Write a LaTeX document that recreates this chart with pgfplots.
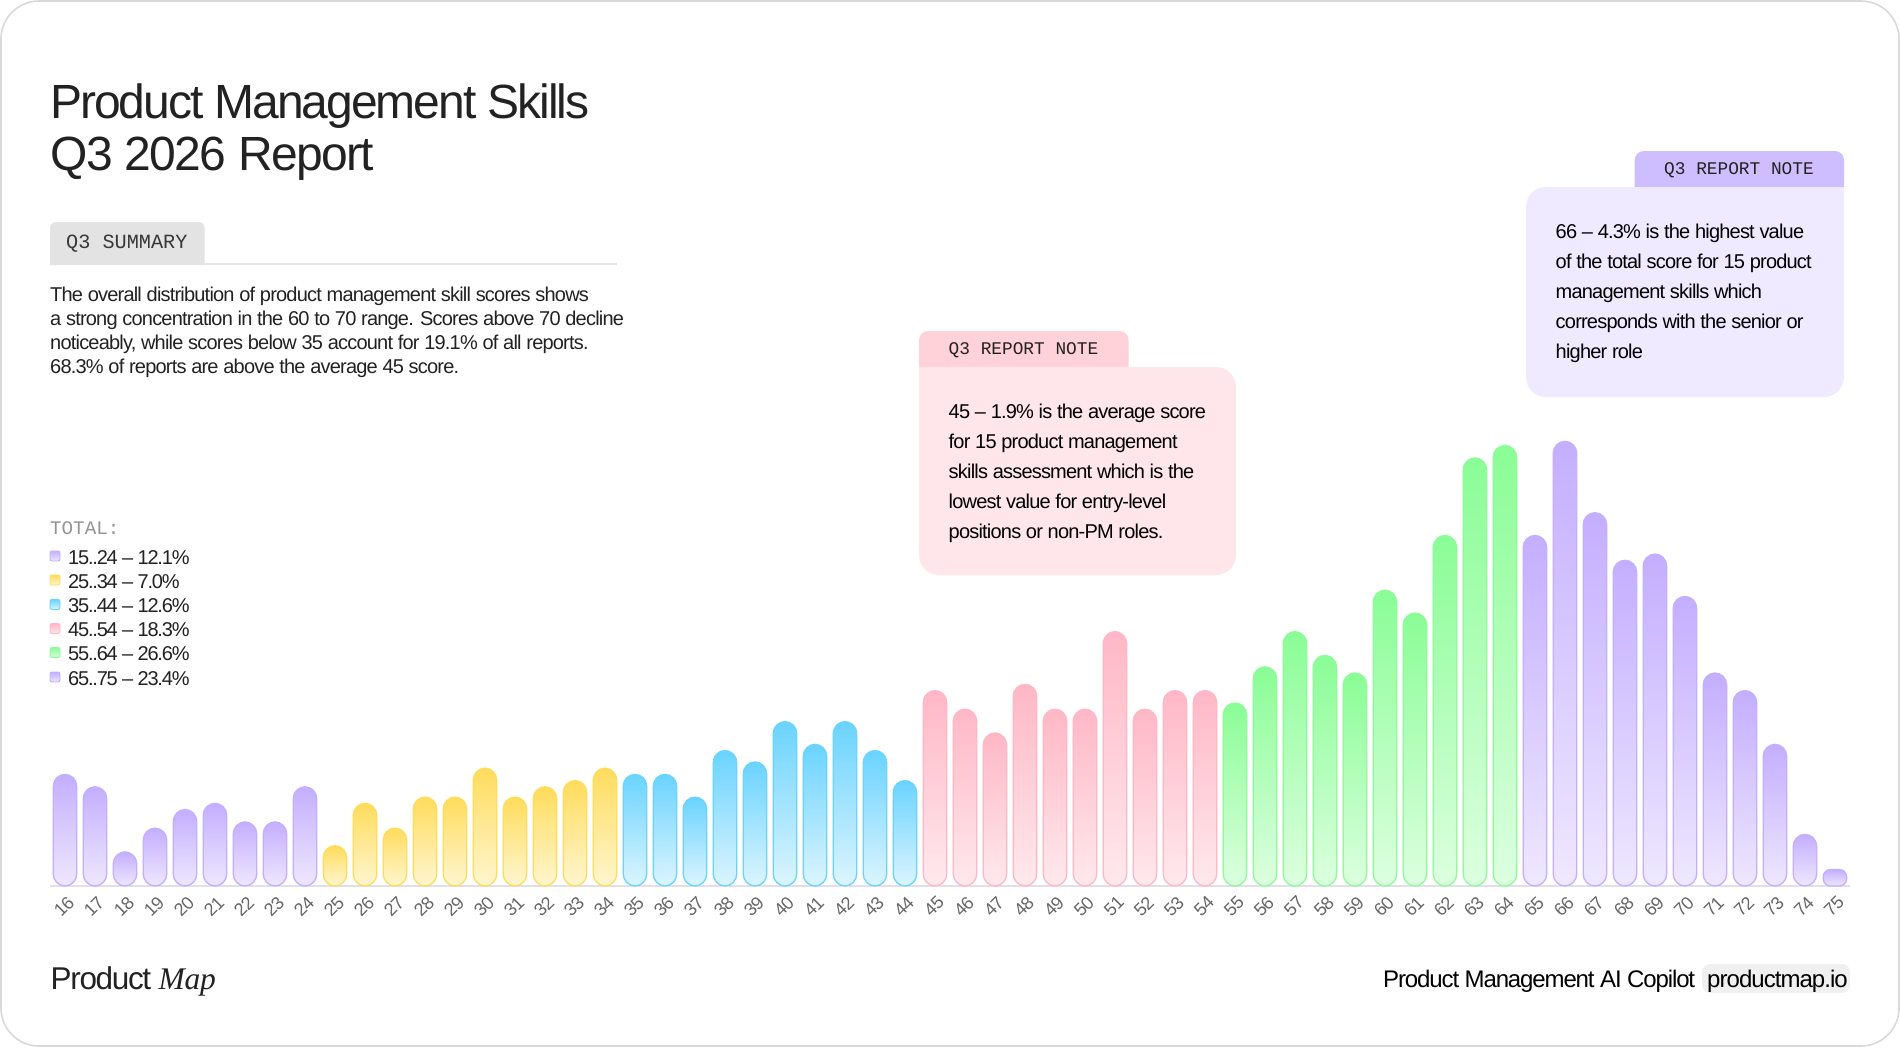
\documentclass[border=0pt]{standalone}
\usepackage{fontspec}
\usepackage{pgfplots}
\pgfplotsset{compat=1.18}
\setmainfont{Liberation Sans}
\newfontfamily\tight{Liberation Sans}[LetterSpace=-4.25]
\newfontfamily\tighter{Liberation Sans}[LetterSpace=-3.3]
\newfontfamily\body{Liberation Sans}[LetterSpace=-4]
\newfontfamily\leg{Liberation Sans}[LetterSpace=-6]
\newfontfamily\note{Liberation Sans}[LetterSpace=-4]
\newfontfamily\foot{Liberation Sans}[LetterSpace=-4.7]
\newfontfamily\lab{Liberation Sans}[LetterSpace=-2]
\newfontfamily\mapit{Liberation Serif}[LetterSpace=-1]
\newfontfamily\mono{Liberation Mono}
\definecolor{purT}{HTML}{C4AEFF}\definecolor{purB}{HTML}{EEE8FF}
\definecolor{yelT}{HTML}{FFDC5C}\definecolor{yelB}{HTML}{FFF6D0}
\definecolor{bluT}{HTML}{6AD3FF}\definecolor{bluB}{HTML}{DCF5FF}
\definecolor{pnkT}{HTML}{FFB7C6}\definecolor{pnkB}{HTML}{FFE9ED}
\definecolor{grnT}{HTML}{8AFD96}\definecolor{grnB}{HTML}{DDFFE0}
\definecolor{ink}{HTML}{222222}
\definecolor{pinkTab}{HTML}{FFD1D9}\definecolor{pinkBody}{HTML}{FEE6EA}
\definecolor{purTab}{HTML}{CEBEFF}\definecolor{purBody}{HTML}{EFEAFF}
\definecolor{axisLine}{HTML}{E2DFEA}
\newcommand\skillbar[4][12pt]{\addplot[ybar,bar width=23.5pt,bar shift=0pt,forget plot,line width=1.3pt,draw=#4T,top color=#4T,bottom color=#4B,rounded corners=#1] coordinates {(#2,#3)};}
\newcommand\tx[5]{\node[anchor=base west,inner sep=0pt,text=#4,font=\fontsize{#3}{#3}\selectfont] at (#1,#2) {#5};}
\newcommand\swatch[2]{\shade[top color=#2T,bottom color=#2B,draw=#2T,line width=0.9pt,rounded corners=2pt] (50,#1-5) rectangle (60,#1+5);}
\begin{document}
\begin{tikzpicture}
\begin{scope}[x=1pt,y=-1pt]
\useasboundingbox (0,0) rectangle (1900,1047);
\draw[draw=black!15,fill=white,line width=1.6pt,rounded corners=38pt] (1,1) rectangle (1899,1046);
% title
\tx{50}{118.5}{48}{ink}{\tight Product Management Skills}
\tx{50}{170.5}{48}{ink}{\tighter Q3 2026 Report}
% summary
\fill[black!11] (50,265) [rounded corners=6pt] -- (50,222) -- (204.5,222) [sharp corners] -- (204.5,265) -- cycle;
\fill[black!11] (50,262.5) rectangle (617,265);
\tx{66}{248}{20.2}{ink!90}{\mono Q3 SUMMARY}
\tx{50}{301.5}{20}{ink}{\body The overall distribution of product management skill scores shows}
\tx{50}{325.5}{20}{ink}{\body a strong concentration in the 60 to 70 range. Scores above 70 decline}
\tx{50}{349.5}{20}{ink}{\body noticeably, while scores below 35 account for 19.1\% of all reports.}
\tx{50}{373.5}{20}{ink}{\body 68.3\% of reports are above the average 45 score.}
% legend
\tx{50}{534.5}{19.2}{black!42}{\mono TOTAL:}
\swatch{556}{pur}\tx{68}{564}{20}{ink}{\leg 15..24 – 12.1\%}
\swatch{580}{yel}\tx{68}{588}{20}{ink}{\leg 25..34 – 7.0\%}
\swatch{604.5}{blu}\tx{68}{612.5}{20}{ink}{\leg 35..44 – 12.6\%}
\swatch{628.5}{pnk}\tx{68}{636.5}{20}{ink}{\leg 45..54 – 18.3\%}
\swatch{652.5}{grn}\tx{68}{660.5}{20}{ink}{\leg 55..64 – 26.6\%}
\swatch{677}{pur}\tx{68}{685}{20}{ink}{\leg 65..75 – 23.4\%}
% pink note
\fill[pinkTab] (919,367) [rounded corners=9pt] -- (919,331) -- (1128.5,331) [sharp corners] -- (1128.5,367) -- cycle;
\fill[pinkBody] (919,367) [rounded corners=20pt] -- (1236,367) -- (1236,575) -- (919,575) [sharp corners] -- (919,367) -- cycle;
\tx{948.5}{354.5}{17.8}{ink}{\mono Q3 REPORT NOTE}
\tx{948.5}{418.5}{20}{black}{\note 45 – 1.9\% is the average score}
\tx{948.5}{448.5}{20}{black}{\note for 15 product management}
\tx{948.5}{478.5}{20}{black}{\note skills assessment which is the}
\tx{948.5}{508.5}{20}{black}{\note lowest value for entry-level}
\tx{948.5}{538.5}{20}{black}{\note positions or non-PM roles.}
% purple note
\fill[purTab] (1634.7,187) [rounded corners=9pt] -- (1634.7,151) -- (1844,151) [sharp corners] -- (1844,187) -- cycle;
\fill[purBody] (1844,187) [rounded corners=20pt] -- (1844,397) -- (1526,397) -- (1526,187) [sharp corners] -- cycle;
\tx{1664}{174.5}{17.8}{ink}{\mono Q3 REPORT NOTE}
\tx{1555.5}{238.5}{20}{black}{\note 66 – 4.3\% is the highest value}
\tx{1555.5}{268.5}{20}{black}{\note of the total score for 15 product}
\tx{1555.5}{298.5}{20}{black}{\note management skills which}
\tx{1555.5}{328.5}{20}{black}{\note corresponds with the senior or}
\tx{1555.5}{358.5}{20}{black}{\note higher role}
% footer
\tx{50.5}{989.5}{31.5}{ink}{\tight Product {\mapit\itshape Map}}
\tx{1383}{987}{24}{black}{\foot Product Management AI Copilot}
\fill[black!6,rounded corners=8pt] (1702,964) rectangle (1850,993);
\tx{1707}{987}{24}{black}{\note productmap.io}
\end{scope}
% chart
\begin{axis}[
  at={(50pt,-886pt)},anchor=south west,scale only axis,
  width=1800pt,height=465.4pt,
  xmin=15.5,xmax=75.5,ymin=0,ymax=4.5,clip=false,
  axis y line=none,axis x line=bottom,
  axis line style={draw=axisLine,line width=1.6pt,-},
  xtick={16,...,75},
  major tick length=0pt,
  xticklabel style={yshift=-20.5pt,xshift=-1pt,rotate=45,anchor=center,text=black!60,font=\fontsize{18}{18}\selectfont\lab,/pgf/number format/assume math mode=true},
  xticklabel={\pgfmathprintnumber[int detect]{\tick}},
]
\skillbar{16}{1.08}{pur}
\skillbar{17}{0.96}{pur}
\skillbar{18}{0.33}{pur}
\skillbar{19}{0.56}{pur}
\skillbar{20}{0.74}{pur}
\skillbar{21}{0.80}{pur}
\skillbar{22}{0.62}{pur}
\skillbar{23}{0.62}{pur}
\skillbar{24}{0.96}{pur}
\skillbar{25}{0.39}{yel}
\skillbar{26}{0.80}{yel}
\skillbar{27}{0.56}{yel}
\skillbar{28}{0.86}{yel}
\skillbar{29}{0.86}{yel}
\skillbar{30}{1.14}{yel}
\skillbar{31}{0.86}{yel}
\skillbar{32}{0.96}{yel}
\skillbar{33}{1.02}{yel}
\skillbar{34}{1.14}{yel}
\skillbar{35}{1.08}{blu}
\skillbar{36}{1.08}{blu}
\skillbar{37}{0.86}{blu}
\skillbar{38}{1.31}{blu}
\skillbar{39}{1.20}{blu}
\skillbar{40}{1.59}{blu}
\skillbar{41}{1.37}{blu}
\skillbar{42}{1.59}{blu}
\skillbar{43}{1.31}{blu}
\skillbar{44}{1.02}{blu}
\skillbar{45}{1.89}{pnk}
\skillbar{46}{1.71}{pnk}
\skillbar{47}{1.48}{pnk}
\skillbar{48}{1.95}{pnk}
\skillbar{49}{1.71}{pnk}
\skillbar{50}{1.71}{pnk}
\skillbar{51}{2.46}{pnk}
\skillbar{52}{1.71}{pnk}
\skillbar{53}{1.89}{pnk}
\skillbar{54}{1.89}{pnk}
\skillbar{55}{1.77}{grn}
\skillbar{56}{2.12}{grn}
\skillbar{57}{2.46}{grn}
\skillbar{58}{2.23}{grn}
\skillbar{59}{2.06}{grn}
\skillbar{60}{2.86}{grn}
\skillbar{61}{2.64}{grn}
\skillbar{62}{3.39}{grn}
\skillbar{63}{4.14}{grn}
\skillbar{64}{4.26}{grn}
\skillbar{65}{3.39}{pur}
\skillbar{66}{4.30}{pur}
\skillbar{67}{3.61}{pur}
\skillbar{68}{3.15}{pur}
\skillbar{69}{3.21}{pur}
\skillbar{70}{2.80}{pur}
\skillbar{71}{2.06}{pur}
\skillbar{72}{1.89}{pur}
\skillbar{73}{1.37}{pur}
\skillbar{74}{0.50}{pur}
\skillbar[7.5pt]{75}{0.16}{pur}
\end{axis}
\end{tikzpicture}
\end{document}
